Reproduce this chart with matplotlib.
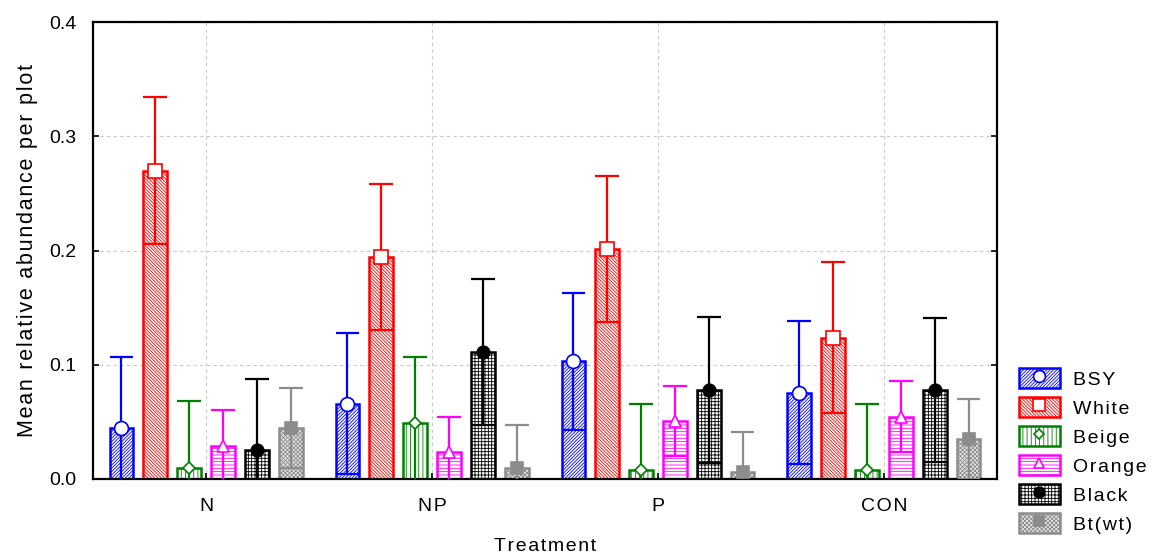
import matplotlib
matplotlib.use("Agg")
import matplotlib.pyplot as plt
import numpy as np
from matplotlib.lines import Line2D
from matplotlib.patches import Patch

# values (mean and half-width of the interval)
treatments = ["N", "NP", "P", "CON"]
series = ["BSY", "White", "Beige", "Orange", "Black", "Bt(wt)"]

mean_bsy = [0.0445, 0.066, 0.103, 0.0757]
mean_white = [0.270, 0.194, 0.2015, 0.1237]
mean_beige = [0.0099, 0.0486, 0.0079, 0.0079]
mean_orange = [0.029, 0.024, 0.051, 0.0544]
mean_black = [0.0253, 0.111, 0.0777, 0.0777]
mean_bt = [0.0448, 0.0099, 0.006, 0.035]

ci_bsy = [0.0625, 0.062, 0.060, 0.0623]
ci_white = [0.064, 0.064, 0.064, 0.066]
ci_beige = [0.058, 0.058, 0.058, 0.058]
ci_orange = [0.031, 0.0305, 0.0305, 0.031]
ci_black = [0.062, 0.064, 0.064, 0.063]
ci_bt = [0.035, 0.037, 0.035, 0.035]

plt.rcParams["font.family"] = ["Liberation Sans", "DejaVu Sans"]
plt.rcParams["hatch.linewidth"] = 0.6


def spaced(text):
    # the original uses a slightly letter-spaced font
    return "\u200a".join(text)


styles = [
    dict(color="#0000ff", hatch="//////////", face="white", marker="o", mfc="white", ms=10),
    dict(color="#ff0000", hatch="\\\\\\\\\\\\\\\\\\\\", face="white", marker="s", mfc="white", ms=10),
    dict(color="#008000", hatch="||||", face="white", marker="D", mfc="white", ms=6),
    dict(color="#ff00ff", hatch="-----", face="white", marker="^", mfc="white", ms=8),
    dict(color="#000000", hatch="+++++", face="white", marker="o", mfc="#000000", ms=9),
    dict(color="#8c8c8c", hatch="xxxxxxxx", face="#e6e6e6", marker="s", mfc="#8c8c8c", ms=9),
]

means = [mean_bsy, mean_white, mean_beige, mean_orange, mean_black, mean_bt]
cis = [ci_bsy, ci_white, ci_beige, ci_orange, ci_black, ci_bt]

fig = plt.figure(figsize=(11.57, 5.56), dpi=100)
ax = fig.add_axes([0.0804, 0.1385, 0.7813, 0.8219])

x = np.arange(len(treatments))
step = 0.15
width = 0.104

for i, (name, st) in enumerate(zip(series, styles)):
    m = np.array(means[i])
    c = np.array(cis[i])
    xs = x + (i - 2.5) * step
    ax.bar(xs, m, width=width, color=st["face"], edgecolor=st["color"],
           hatch=st["hatch"], linewidth=1.8, zorder=2)
    lo = m - c
    hi = m + c
    ax.vlines(xs, lo, hi, color=st["color"], linewidth=1.6, zorder=3)
    ax.hlines(hi, xs - width / 2, xs + width / 2, color=st["color"], linewidth=1.6, zorder=3)
    ax.hlines(lo, xs - width / 2, xs + width / 2, color=st["color"], linewidth=1.6, zorder=3)
    ax.plot(xs, m, linestyle="none", marker=st["marker"], markersize=st["ms"],
            markerfacecolor=st["mfc"], markeredgecolor=st["color"], markeredgewidth=1.2,
            zorder=4)

ax.set_xlim(-0.5, len(treatments) - 0.5)
ax.set_ylim(0, 0.4)
ax.set_xticks(x)
ax.set_xticklabels([spaced(t) for t in treatments], fontsize=14)
ax.set_yticks([0.0, 0.1, 0.2, 0.3, 0.4])
ax.set_yticklabels(["0.0", "0.1", "0.2", "0.3", "0.4"], fontsize=14)
ax.tick_params(axis="both", direction="in", length=4, width=1.2, color="black")
ax.tick_params(axis="x", pad=14)
ax.tick_params(axis="y", pad=12, right=True, labelright=False)
ax.grid(True, color="#c8c8c8", linestyle=(0, (3, 3)), linewidth=0.8, zorder=0)
ax.set_axisbelow(True)
for side in ax.spines.values():
    side.set_linewidth(1.6)

ax.set_xlabel(spaced("Treatment"), fontsize=14, labelpad=16)
ax.set_ylabel(spaced("Mean relative abundance per plot"), fontsize=15.5, labelpad=8)

handles = []
for st in styles:
    patch = Patch(facecolor=st["face"], edgecolor=st["color"], hatch=st["hatch"], linewidth=1.8)
    mark = Line2D([], [], linestyle="none", marker=st["marker"], markersize=st["ms"] * 0.85,
                  markerfacecolor=st["mfc"], markeredgecolor=st["color"], markeredgewidth=1.2)
    handles.append((patch, mark))

fig.legend(handles, [spaced(s) for s in series], loc="upper left",
           bbox_to_anchor=(0.869, 0.362), frameon=False, fontsize=14,
           handlelength=2.1, handleheight=1.15, labelspacing=0.45,
           handletextpad=0.7, borderpad=0.2)

fig.savefig("out.png", dpi=100)
